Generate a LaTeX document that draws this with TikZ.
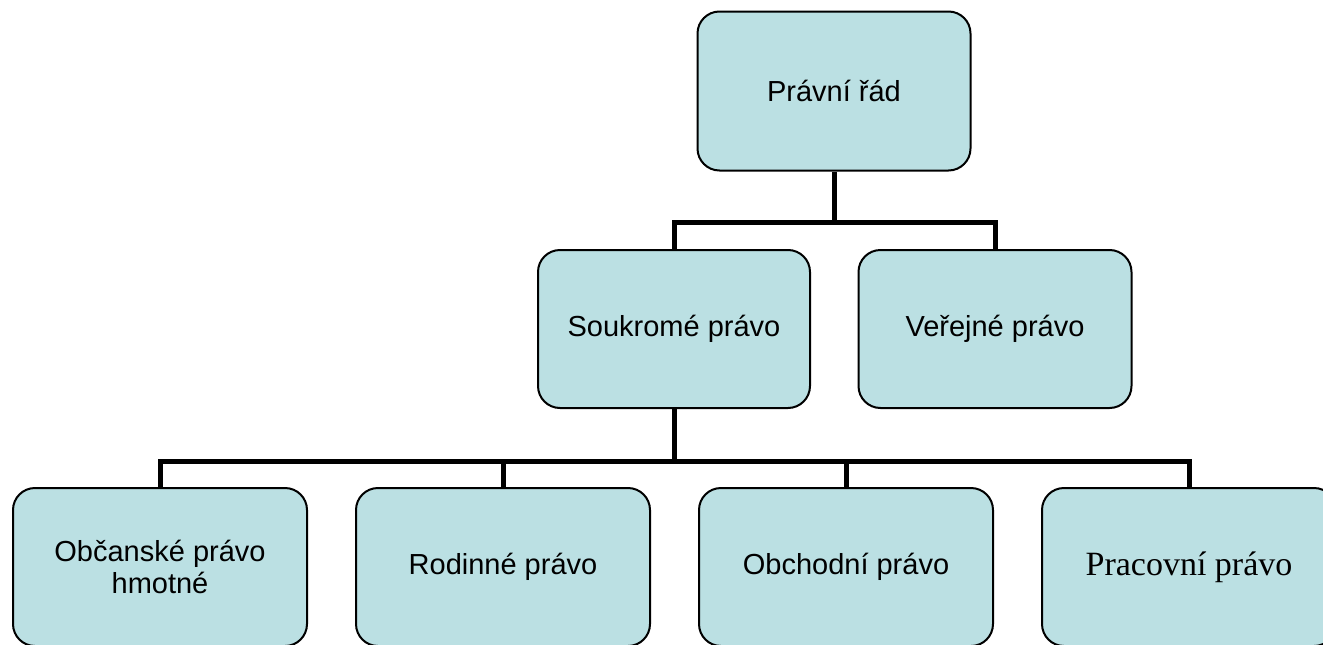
\documentclass[tikz,border=0pt]{standalone}
\usepackage{fontspec}
\setmainfont{Liberation Sans}
\newfontfamily\serifpr{Liberation Serif}
\definecolor{boxfill}{RGB}{187,224,227}
\begin{document}
\begin{tikzpicture}[x=1pt,y=-1pt,
  orgbox/.style={draw=black, line width=2pt, fill=boxfill, rounded corners=22pt,
    minimum width=272pt, minimum height=158pt, inner sep=0pt, align=center,
    font=\fontsize{29}{32}\selectfont},
  wideorg/.style={orgbox, minimum width=294pt},
  conn/.style={draw=black, line width=5pt}]
\useasboundingbox (0,0) rectangle (1323,645);
\fill[white] (0,0) rectangle (1323,645);
\node[orgbox, minimum width=273pt, minimum height=159pt] (top) at (834,91) {Právní řád};
\node[orgbox] (sou) at (674,329) {Soukromé právo};
\node[orgbox, minimum width=273pt] (ver) at (995,329) {Veřejné právo};
\node[wideorg] (b1) at (160,567) {Občanské právo\\hmotné};
\node[wideorg] (b2) at (503,567) {Rodinné právo};
\node[wideorg] (b3) at (846,567) {Obchodní právo};
\node[wideorg, font=\serifpr\fontsize{34}{38}\selectfont] (b4) at (1189,567) {Pracovní právo};
\coordinate (j1) at (834,222);
\coordinate (j2) at (674,461);
\draw[conn] (top.south) -- (top.south |- j1);
\draw[conn] (sou.north) |- (j1) -| (ver.north);
\draw[conn] (sou.south) -- (sou.south |- j2);
\draw[conn] (b1.north) |- (j2) -| (b4.north);
\draw[conn] (b2.north) -- (b2.north |- j2);
\draw[conn] (b3.north) -- (b3.north |- j2);
\end{tikzpicture}
\end{document}
